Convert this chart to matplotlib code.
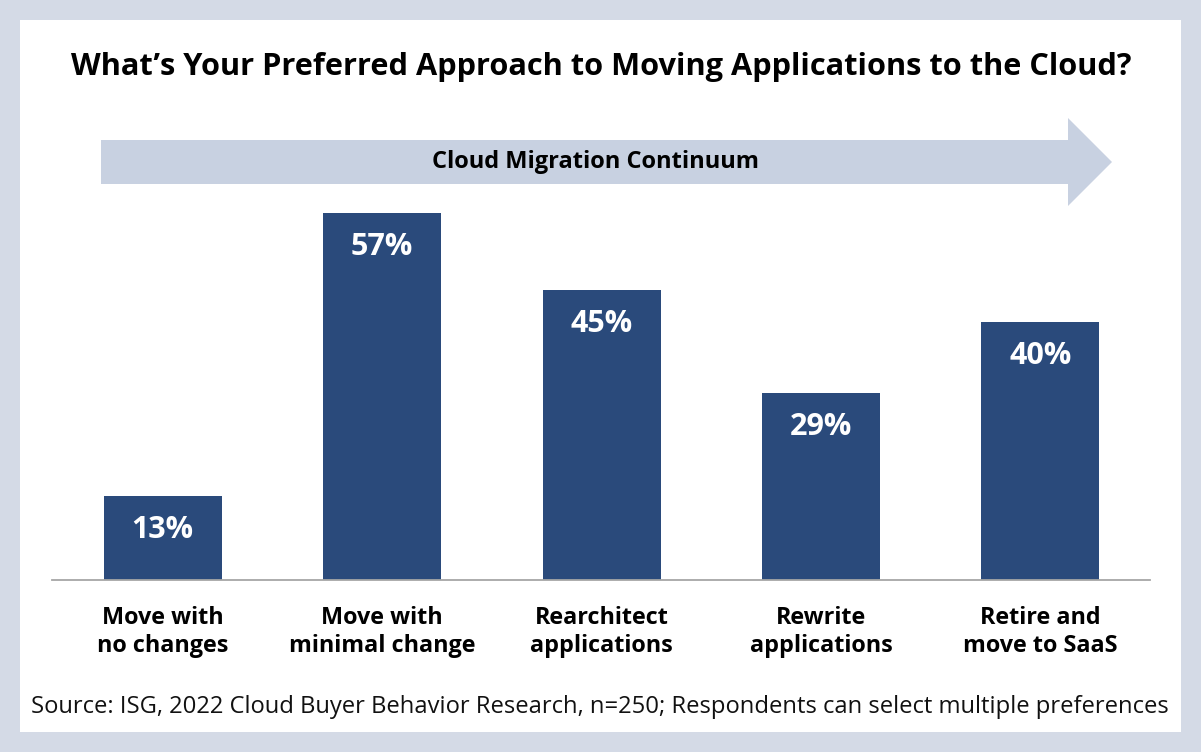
import matplotlib.pyplot as plt
from matplotlib.patches import Rectangle, Polygon

plt.rcParams['font.family'] = ['Open Sans', 'DejaVu Sans']

# Chart data
categories = ["Move with\nno changes", "Move with\nminimal change", "Rearchitect\napplications",
              "Rewrite\napplications", "Retire and\nmove to SaaS"]
shares = [13, 57, 45, 29, 40]
value_labels = ["13%", "57%", "45%", "29%", "40%"]

title = "What\u2019s Your Preferred Approach to Moving Applications to the Cloud?"
arrow_text = "Cloud Migration Continuum"
source = "Source: ISG, 2022 Cloud Buyer Behavior Research, n=250; Respondents can select multiple preferences"

BAR_COLOR = "#2a4a7b"
ARROW_COLOR = "#c8d1e1"
BORDER_COLOR = "#d4dae6"

W, H = 1201, 752
fig = plt.figure(figsize=(W / 100, H / 100), dpi=100, facecolor=BORDER_COLOR)

# Overlay in pixel coordinates for the panel, arrow and free text
bg = fig.add_axes([0, 0, 1, 1], zorder=0)
bg.set_xlim(0, W)
bg.set_ylim(H, 0)
bg.axis('off')
bg.add_patch(Rectangle((20, 20), 1161, 712, facecolor='white', edgecolor='none'))

arrow = Polygon([(101, 140), (1068, 140), (1068, 118), (1112, 162),
                 (1068, 206), (1068, 184), (101, 184)],
                closed=True, facecolor=ARROW_COLOR, edgecolor='none')
bg.add_patch(arrow)
bg.text(595, 168, arrow_text, ha='center', va='baseline', fontsize=17,
        fontweight='bold', color='black')

bg.text(601, 75, title, ha='center', va='baseline', fontsize=22.15,
        fontweight='bold', color='black')
bg.text(600, 713, source, ha='center', va='baseline', fontsize=17.1, color='#111111')

# Bar axes: baseline at y=579.5 px, about 6.43 px per percentage point
left_px, right_px, base_px = 52, 1150, 579.5
height_px = 384
px_per_pct = 6.43
ax = fig.add_axes([left_px / W, (H - base_px) / H, (right_px - left_px) / W, height_px / H],
                  zorder=1)
ax.patch.set_alpha(0)
x = list(range(len(shares)))
ax.bar(x, shares, width=0.538, color=BAR_COLOR)
ax.set_xlim(-0.505, 4.5)
ax.set_ylim(0, height_px / px_per_pct)

for xi, v, lab in zip(x, shares, value_labels):
    ax.annotate(lab, (xi, v), xytext=(0, -42), textcoords='offset pixels',
                ha='center', va='baseline', fontsize=22, fontweight='bold', color='white')

for xi, cat in zip(x, categories):
    for k, line in enumerate(cat.split("\n")):
        ax.annotate(line, (xi, 0), xytext=(0, -44 - 29 * k), textcoords='offset pixels',
                    ha='center', va='baseline', fontsize=16.8, fontweight='bold',
                    color='black', annotation_clip=False)

for s in ['top', 'right', 'left']:
    ax.spines[s].set_visible(False)
ax.spines['bottom'].set_color('#a6a6a6')
ax.spines['bottom'].set_linewidth(1.3)
ax.set_xticks([])
ax.set_yticks([])

fig.savefig('out.png', dpi=100, facecolor=BORDER_COLOR)
